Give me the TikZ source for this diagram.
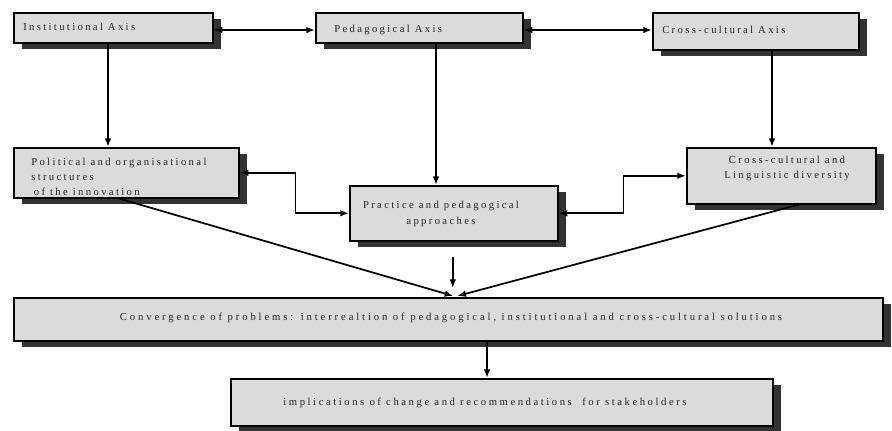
\documentclass[tikz,border=0pt]{standalone}
\usepackage{fontspec}
\setmainfont{Liberation Serif}
\newfontfamily\boxfont[LetterSpace=22]{Liberation Serif}
\newfontfamily\convfont[LetterSpace=27]{Liberation Serif}
\newfontfamily\implfont[LetterSpace=24]{Liberation Serif}
\usetikzlibrary{arrows.meta, calc, positioning, shadows}

\begin{document}
\begin{tikzpicture}[
    x=0.75pt, y=-0.75pt,
    >={Latex[length=6.5pt, width=5pt]},
    box/.style={draw, line width=1.2pt, fill=black!14, anchor=north west,
                inner sep=0pt,
                drop shadow={shadow xshift=6.5pt, shadow yshift=-4.5pt,
                             fill=black!80, opacity=1}},
    txt/.style={font=\boxfont\fontsize{8}{11.5}\selectfont, text=black!85,
                inner sep=0pt},
    arr/.style={->, line width=1.3pt},
    biarr/.style={<->, line width=1.3pt},
]
\useasboundingbox (0,0) rectangle (892,430);
% the three axes
\node[box, minimum width=149.25pt, minimum height=22.5pt] (inst) at (13,12) {};
\node[txt, anchor=west] (inst-t) at (23,27) {Institutional Axis};
\node[box, minimum width=155.25pt, minimum height=22.5pt] (ped) at (315,12) {};
\node[txt, anchor=west] (ped-t) at (334,30) {Pedagogical Axis};
\node[box, minimum width=154.5pt, minimum height=27.75pt] (cross) at (652,12) {};
\node[txt, anchor=west] (cross-t) at (662,30) {Cross-cultural Axis};
% the middle row
\node[box, minimum width=168.75pt, minimum height=37.5pt] (pol) at (13,147) {};
\node[box, minimum width=156pt, minimum height=41.25pt] (prac) at (349,185) {};
\node[box, minimum width=141.75pt, minimum height=42pt] (div) at (686,147) {};
\node[txt, anchor=west, align=left] (pol-t) at (31,177)
     {Political and organisational\\ structures\\ \hspace*{2pt}of the innovation};
\node[txt, align=center] (prac-t) at (441,214) {Practice and pedagogical\\ approaches};
\node[txt, align=center] (div-t) at (787,168.5) {Cross-cultural and\\ Linguistic diversity};
% the bottom row
\node[box, minimum width=651.75pt, minimum height=32.25pt] (conv) at (13,297) {};
\node[txt, font=\convfont\fontsize{8}{11.5}\selectfont] (conv-t) at (451,318)
     {Convergence of problems: interrealtion of pedagogical, institutional and cross-cultural solutions};
\node[box, minimum width=406.5pt, minimum height=35.25pt] (impl) at (230,378) {};
\node[txt, font=\implfont\fontsize{8}{11.5}\selectfont] (impl-t) at (485,403)
     {implications of change and recommendations \ for stakeholders};
% links between the axes
\draw[biarr] (inst.east |- 0,30) -- (ped.west |- 0,30);
\draw[biarr] (ped.east |- 0,30) -- (cross.west |- 0,30);
% axes down to the middle row
\draw[arr] (inst.south -| 108,0) -- (pol.north -| 108,0);
\draw[arr] (ped.south -| 436,0) -- (prac.north -| 436,0);
\draw[arr] (cross.south -| 772,0) -- (div.north -| 772,0);
% elbows into the practice box
\draw[biarr] (pol.east) -- ++(56,0) |- (prac.west);
\draw[biarr] (prac.east) -- ++(65,0) |- (div.west);
% convergence
\coordinate (meet) at ($(conv.north)+(5,-1)$);
\draw[arr] ($(pol.south)+(-7,0)$) -- (meet);
\draw[arr] ($(div.south)+(17.5,0)$) -- ($(meet)+(4,0)$);
\draw[arr] ($(prac.south)+(-1,15)$) -- ($(conv.north)+(4.5,-9)$);
\draw[arr] (conv.south -| 487,0) -- (impl.north -| 487,0);
\end{tikzpicture}
\end{document}
